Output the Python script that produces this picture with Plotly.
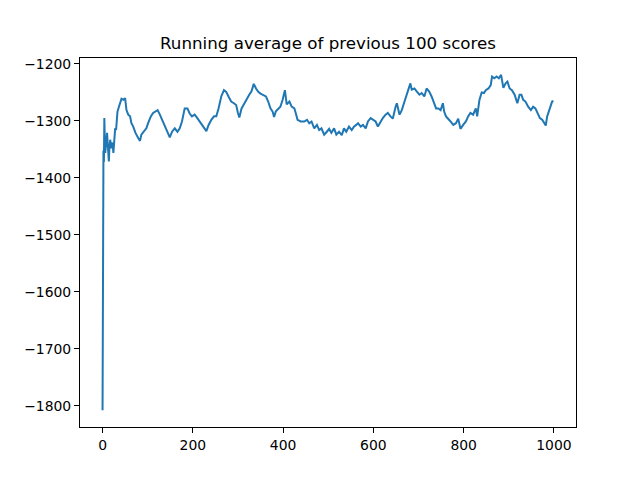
import plotly.graph_objects as go

# episode index and running average
episodes = [0, 1, 2, 3, 4, 5, 6, 8, 10, 12, 14, 15, 17, 19, 22, 24, 26, 28, 30, 33,
            36, 39, 42, 46, 50, 53, 57, 61, 64, 68, 73, 79, 83, 86, 92, 97, 101, 107, 112, 117,
            122, 127, 132, 138, 144, 149, 154, 160, 166, 171, 176, 182, 188, 193, 198, 204, 210, 215, 220, 225,
            230, 235, 241, 247, 252, 257, 263, 269, 274, 279, 285, 291, 296, 300, 303, 308, 314, 320, 325, 330,
            335, 340, 345, 350, 355, 362, 367, 372, 377, 380, 384, 389, 394, 399, 404, 408, 414, 419, 425, 428,
            432, 439, 447, 453, 458, 463, 469, 475, 480, 485, 491, 497, 502, 507, 513, 518, 524, 530, 535, 540,
            546, 552, 557, 562, 566, 572, 577, 583, 588, 594, 599, 605, 610, 616, 621, 627, 632, 638, 643, 649,
            652, 658, 663, 669, 674, 678, 682, 685, 691, 696, 702, 707, 713, 718, 724, 729, 735, 739, 744, 749,
            754, 757, 761, 766, 771, 777, 783, 788, 793, 799, 805, 810, 815, 821, 827, 830, 835, 840, 845, 849,
            855, 860, 863, 868, 873, 878, 883, 888, 893, 897, 902, 907, 913, 919, 924, 928, 932, 937, 943, 949,
            954, 959, 963, 969, 974, 978, 982, 985, 989, 993, 996, 999]

avg_scores = [-1808, -1405, -1352, -1372, -1295, -1332, -1356, -1330, -1321, -1346, -1371, -1350, -1333, -1348, -1338, -1356, -1327, -1313, -1316, -1284,
              -1276, -1269, -1261, -1263, -1260, -1281, -1289, -1292, -1304, -1310, -1321, -1330, -1335, -1324, -1319, -1313, -1304, -1292, -1286, -1284,
              -1281, -1289, -1298, -1310, -1321, -1329, -1319, -1313, -1319, -1313, -1301, -1278, -1278, -1287, -1292, -1289, -1295, -1301, -1307, -1313,
              -1318, -1307, -1298, -1292, -1292, -1278, -1257, -1246, -1249, -1257, -1266, -1269, -1272, -1286, -1294, -1278, -1269, -1260, -1254, -1248,
              -1235, -1243, -1249, -1252, -1254, -1257, -1266, -1278, -1284, -1293, -1283, -1278, -1275, -1263, -1246, -1271, -1266, -1275, -1278, -1286,
              -1298, -1301, -1301, -1298, -1304, -1301, -1313, -1307, -1316, -1313, -1324, -1319, -1314, -1321, -1313, -1324, -1319, -1325, -1313, -1319,
              -1310, -1316, -1310, -1307, -1304, -1310, -1307, -1313, -1301, -1295, -1298, -1301, -1310, -1301, -1295, -1289, -1286, -1292, -1296, -1276,
              -1269, -1289, -1281, -1266, -1254, -1241, -1234, -1245, -1243, -1248, -1254, -1251, -1257, -1243, -1249, -1257, -1272, -1278, -1278, -1281,
              -1269, -1284, -1292, -1296, -1301, -1307, -1304, -1296, -1314, -1307, -1301, -1292, -1286, -1289, -1278, -1292, -1263, -1250, -1251, -1246,
              -1243, -1237, -1222, -1225, -1222, -1225, -1219, -1242, -1234, -1231, -1243, -1246, -1254, -1269, -1254, -1254, -1263, -1266, -1275, -1281,
              -1275, -1278, -1286, -1295, -1298, -1304, -1308, -1292, -1281, -1272, -1266, -1265]

x_ticks = [0, 200, 400, 600, 800, 1000]
y_ticks = [-1800, -1700, -1600, -1500, -1400, -1300, -1200]

fig = go.Figure()
fig.add_trace(go.Scatter(x=episodes, y=avg_scores, mode='lines',
                         line=dict(color='#1f77b4', width=2)))

axis_style = dict(showgrid=False, zeroline=False, showline=True, mirror=True,
                  linecolor='black', linewidth=1, ticks='outside', ticklen=5,
                  tickwidth=1, tickcolor='black', automargin=False,
                  tickfont=dict(family='DejaVu Sans', size=13.9, color='black'))

fig.update_xaxes(range=[-49.95, 1048.95], tickvals=x_ticks, **axis_style)
fig.update_yaxes(range=[-1837.5, -1189.5], tickvals=y_ticks, **axis_style)

# the page puts the figure 8px in from the top-left corner, so margins are shifted to compensate
fig.update_layout(
    width=640, height=480,
    margin=dict(l=72, r=72, t=50, b=61),
    paper_bgcolor='white', plot_bgcolor='white',
    showlegend=False,
    title=dict(text='Running average of previous 100 scores',
               font=dict(family='DejaVu Sans', size=16.7, color='black'),
               x=0.5, xanchor='center', xref='paper',
               y=1 - 35 / 480, yref='container', yanchor='middle',
               automargin=False),
)

fig.write_html('out.html')
